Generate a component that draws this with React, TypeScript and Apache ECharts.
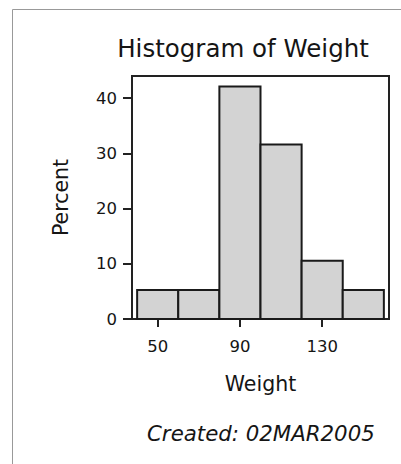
import React, { useEffect, useRef } from "react";
import * as echarts from "echarts";

// Histogram bins (lower edge, upper edge) and percent of observations in each
const binStarts = [40, 60, 80, 100, 120, 140];
const binEnds = [60, 80, 100, 120, 140, 160];
const percents = [5.26, 5.26, 42.11, 31.58, 10.53, 5.26];

const xTicks = [50, 90, 130];
const yTicks = [0, 10, 20, 30, 40];

const FONT = "DejaVu Sans";

export default function App() {
  const ref = useRef<HTMLDivElement>(null);

  useEffect(() => {
    if (!ref.current) return;
    const chart = echarts.init(ref.current, undefined, { renderer: "svg" });
    const data = binStarts.map((s, i) => [s, binEnds[i], percents[i]]);

    chart.setOption({
      animation: false,
      backgroundColor: "#fff",
      title: {
        text: "Histogram of Weight",
        left: 238,
        top: 31,
        textAlign: "center",
        textStyle: { fontFamily: FONT, fontSize: 24.5, fontWeight: "normal", color: "#151515" },
      },
      grid: {
        left: 132,
        right: 12,
        top: 76,
        bottom: 145,
        show: true,
        borderColor: "#222",
        borderWidth: 2,
      },
      xAxis: {
        type: "value",
        min: 37.5,
        max: 162.5,
        name: "Weight",
        nameLocation: "middle",
        nameGap: 54,
        nameTextStyle: { fontFamily: FONT, fontSize: 20.5, color: "#151515" },
        splitLine: { show: false },
        axisLine: { show: true, lineStyle: { color: "#222", width: 2 } },
        axisTick: { show: true, length: 8, customValues: xTicks, lineStyle: { color: "#222", width: 2 } },
        axisLabel: { customValues: xTicks, margin: 19, fontFamily: FONT, fontSize: 16.5, color: "#151515" },
      },
      yAxis: {
        type: "value",
        min: 0,
        max: 44,
        name: "Percent",
        nameLocation: "middle",
        nameGap: 61,
        nameTextStyle: { fontFamily: FONT, fontSize: 20.5, color: "#151515" },
        splitLine: { show: false },
        axisLine: { show: true, lineStyle: { color: "#222", width: 2 } },
        axisTick: { show: true, length: 9, customValues: yTicks, lineStyle: { color: "#222", width: 2 } },
        axisLabel: { customValues: yTicks, margin: 15, fontFamily: FONT, fontSize: 16.5, color: "#151515" },
      },
      graphic: [
        {
          type: "rect",
          silent: true,
          shape: { x: 12.5, y: 9.5, width: 600, height: 600 },
          style: { fill: "none", stroke: "#999", lineWidth: 1 },
        },
        {
          type: "text",
          left: 147,
          top: 423,
          style: {
            text: "Created: 02MAR2005",
            font: `italic 21.3px "${FONT}"`,
            fill: "#151515",
          },
        },
      ],
      series: [
        {
          type: "custom",
          data,
          encode: { x: [0, 1], y: 2 },
          renderItem: (params: any, api: any) => {
            const p0 = api.coord([api.value(0), api.value(2)]);
            const p1 = api.coord([api.value(1), 0]);
            return {
              type: "rect",
              shape: { x: p0[0], y: p0[1], width: p1[0] - p0[0], height: p1[1] - p0[1] },
              style: { fill: "#d3d3d3", stroke: "#1a1a1a", lineWidth: 2 },
            };
          },
        },
      ],
    });

    return () => chart.dispose();
  }, []);

  return (
    <div
      ref={ref}
      style={{ position: "fixed", left: 0, top: 0, width: 401, height: 464 }}
    />
  );
}
